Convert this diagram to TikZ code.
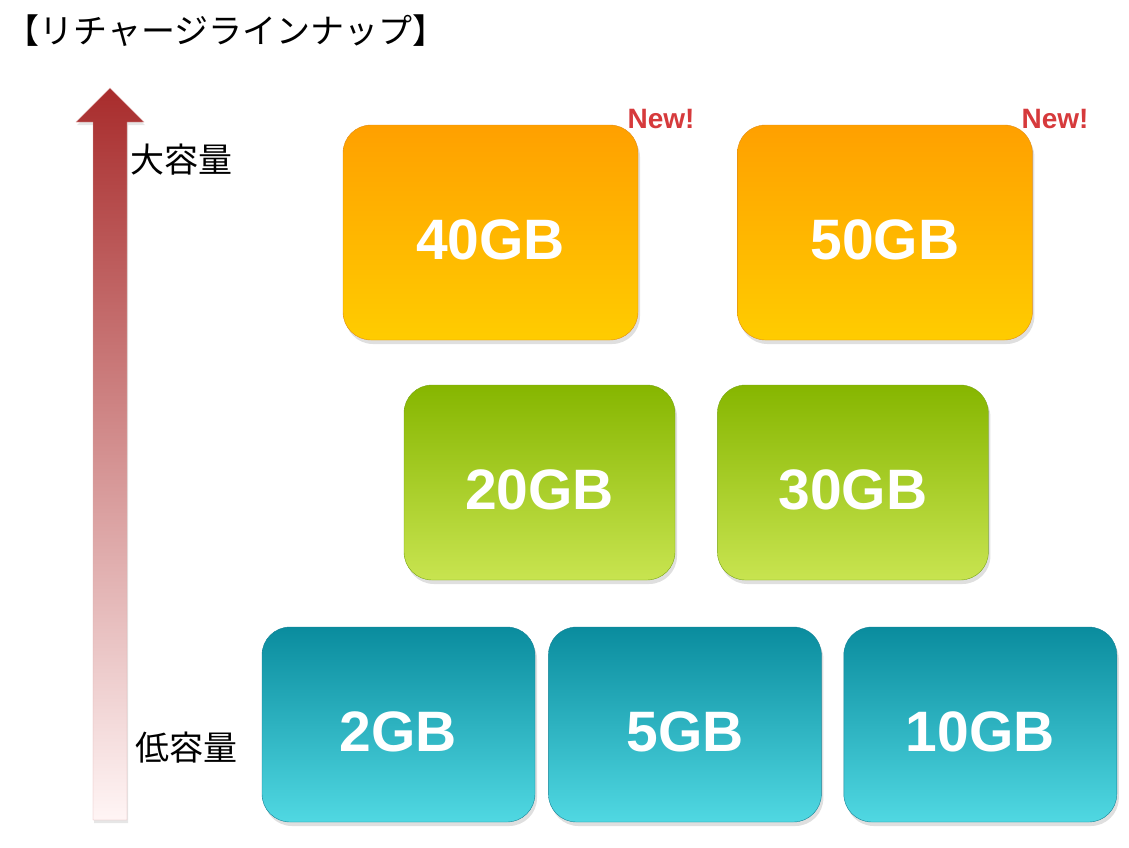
\documentclass[tikz,border=0pt]{standalone}
\usepackage{fontspec}
\setmainfont{Liberation Sans}
\newfontfamily\jpfont{Noto Sans CJK JP}
\usepackage{tikz}
\usetikzlibrary{positioning,shadows}
\definecolor{OrangeTop}{RGB}{255,160,0}
\definecolor{OrangeBottom}{RGB}{255,204,0}
\definecolor{OrangeEdge}{RGB}{225,140,20}
\definecolor{GreenTop}{RGB}{134,182,0}
\definecolor{GreenBottom}{RGB}{200,228,80}
\definecolor{GreenEdge}{RGB}{120,165,20}
\definecolor{TealTop}{RGB}{10,140,158}
\definecolor{TealBottom}{RGB}{80,216,226}
\definecolor{TealEdge}{RGB}{20,130,150}
\definecolor{ArrowRed}{RGB}{168,44,44}
\definecolor{ArrowPale}{RGB}{255,245,245}
\definecolor{NewRed}{RGB}{214,58,60}

\begin{document}
\begin{tikzpicture}[x=1pt,y=-1pt,
 gb/.style={rounded corners=28pt,align=center,text=white,text height=54pt,
 font=\fontsize{57}{60}\selectfont\bfseries,
 drop shadow={opacity=0.25,shadow xshift=2pt,shadow yshift=-4pt}},
 big/.style={gb,minimum width=295pt,minimum height=215pt,draw=OrangeEdge,
 top color=OrangeTop,bottom color=OrangeBottom},
 mid/.style={gb,minimum width=271pt,minimum height=195pt,draw=GreenEdge,
 top color=GreenTop,bottom color=GreenBottom},
 low/.style={gb,minimum width=273pt,minimum height=195pt,draw=TealEdge,
 top color=TealTop,bottom color=TealBottom},
 newtag/.style={text=NewRed,font=\fontsize{28}{30}\selectfont\bfseries},
 side/.style={font=\jpfont\fontsize{34}{36}\selectfont}]
\useasboundingbox (0,0) rectangle (1129,847);
\node[anchor=west,font=\jpfont\fontsize{34}{36}\selectfont] (title) at (2,31) {【リチャージラインナップ】};
% capacity arrow
\path[draw=ArrowRed!40,top color=ArrowRed,bottom color=ArrowPale,
 drop shadow={opacity=0.2,shadow xshift=1pt,shadow yshift=-3pt}]
 (93,820) -- (93,122) -- (76,122) -- (110,88) -- (144,122) -- (127,122) -- (127,820) -- cycle;
\node[side] (high) at (181,160) {大容量};
\node[side] (low) at (186,748) {低容量};
% boxes
\node[big] (gb40) at (490.5,232.5) {40GB};
\node[big,right=99pt of gb40] (gb50) {50GB};
\node[mid] (gb20) at (539.5,482.5) {20GB};
\node[mid,right=42pt of gb20] (gb30) {30GB};
\node[low] (gb2) at (398.5,724.5) {2GB};
\node[low,right=13pt of gb2] (gb5) {5GB};
\node[low,right=22pt of gb5] (gb10) {10GB};
\node[newtag] (new40) at (661,119) {New!};
\node[newtag] (new50) at (1055,119) {New!};
\end{tikzpicture}
\end{document}
